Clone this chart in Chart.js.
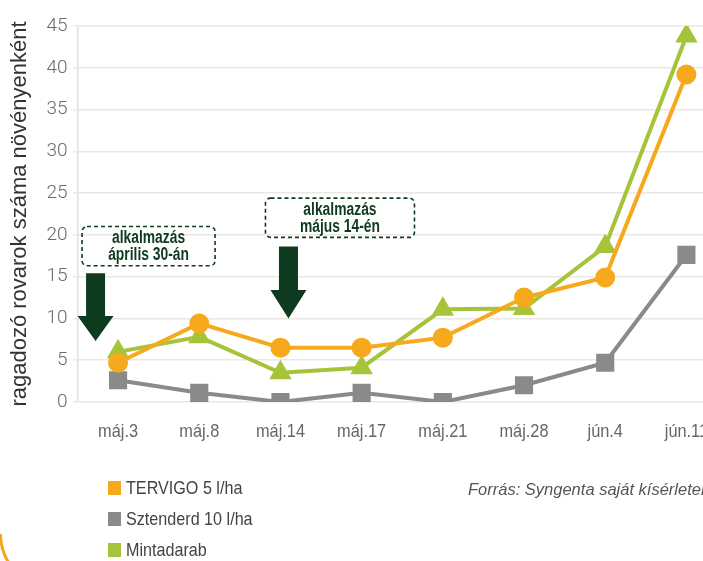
<!DOCTYPE html>
<html>
<head>
<meta charset="utf-8">
<script src="https://cdn.jsdelivr.net/npm/chart.js@4"></script>
<style>
  html, body { margin: 0; padding: 0; background: #fff; overflow: hidden; }
  #wrap { position: relative; width: 703px; height: 561px; overflow: hidden; }
  #box { position: absolute; left: 0; top: 0; width: 741px; height: 561px; }
  #legend { position: absolute; left: 108px; top: 472px; font-family: 'Liberation Sans', Arial, sans-serif; font-size: 19px; color: #444; }
  #legend div { height: 31px; display: flex; align-items: center; white-space: nowrap; }
  #legend span.sw { display: inline-block; width: 13px; height: 14px; margin-right: 5px; }
  #legend span.tx { display: inline-block; transform: scaleX(0.85); transform-origin: left center; }
  #source { position: absolute; left: 468px; top: 480px; font-family: 'Liberation Sans', Arial, sans-serif; font-style: italic; font-size: 16.5px; color: #555; white-space: nowrap; }
  #corner { position: absolute; left: -1px; top: 534px; width: 300px; height: 56px; box-sizing: border-box; border-left: 3px solid #f5a81c; border-bottom: 3px solid #f5a81c; border-radius: 0 0 0 56px; }
</style>
</head>
<body>
<div id="wrap">
  <div id="box"><canvas id="myChart"></canvas></div>
  <div id="legend"></div>
  <div id="source">Forrás: Syngenta saját kísérletei</div>
  <div id="corner"></div>
</div>
<script>
const labels = ['máj.3', 'máj.8', 'máj.14', 'máj.17', 'máj.21', 'máj.28', 'jún.4', 'jún.11'];
const tervigo = [4.7, 9.4, 6.5, 6.5, 7.7, 12.5, 14.9, 39.2];
const sztenderd = [2.6, 1.1, 0, 1.1, 0, 2.0, 4.7, 17.6];
const mintadarab = [6.0, 7.8, 3.5, 4.1, 11.1, 11.2, 18.6, 43.8];
const seriesNames = ['TERVIGO 5 l/ha', 'Sztenderd 10 l/ha', 'Mintadarab'];
const yTicks = [0, 5, 10, 15, 20, 25, 30, 35, 40, 45];
const notes = [
    ['alkalmazás', 'április 30-án'],
    ['alkalmazás', 'május 14-én']
];

const colors = ['#f6a91d', '#8a8a8a', '#a5c43a'];
const sans = "'Liberation Sans', Arial, sans-serif";
const darkGreen = '#0e3b1f';

// legend
const legend = document.getElementById('legend');
seriesNames.forEach((name, i) => {
    const row = document.createElement('div');
    const sw = document.createElement('span');
    sw.className = 'sw';
    sw.style.background = colors[i];
    const tx = document.createElement('span');
    tx.className = 'tx';
    tx.textContent = name;
    row.appendChild(sw);
    row.appendChild(tx);
    legend.appendChild(row);
});

function arrow(ctx, cx, top, headTop, tip) {
    ctx.fillStyle = darkGreen;
    ctx.beginPath();
    ctx.moveTo(cx - 9.5, top);
    ctx.lineTo(cx + 9.5, top);
    ctx.lineTo(cx + 9.5, headTop);
    ctx.lineTo(cx + 18, headTop);
    ctx.lineTo(cx, tip);
    ctx.lineTo(cx - 18, headTop);
    ctx.lineTo(cx - 9.5, headTop);
    ctx.closePath();
    ctx.fill();
}

// condensed text: draw squeezed horizontally
function narrowText(ctx, text, x, y, sx) {
    ctx.save();
    ctx.translate(x, y);
    ctx.scale(sx, 1);
    ctx.fillText(text, 0, 0);
    ctx.restore();
}

function noteBox(ctx, x1, y1, x2, y2, lines) {
    ctx.save();
    ctx.strokeStyle = darkGreen;
    ctx.lineWidth = 1.6;
    ctx.setLineDash([4, 3]);
    ctx.beginPath();
    ctx.roundRect(x1, y1, x2 - x1, y2 - y1, 5);
    ctx.stroke();
    ctx.setLineDash([]);
    ctx.fillStyle = darkGreen;
    ctx.font = 'bold 18px ' + sans;
    ctx.textAlign = 'center';
    ctx.textBaseline = 'middle';
    const cx = (x1 + x2) / 2, cy = (y1 + y2) / 2;
    narrowText(ctx, lines[0], cx, cy - 8, 0.77);
    narrowText(ctx, lines[1], cx, cy + 9, 0.77);
    ctx.restore();
}

const annotations = {
    id: 'annotations',
    beforeDatasetsDraw(chart) {
        const ctx = chart.ctx;
        const xs = chart.scales.x, ys = chart.scales.y;
        const c0 = xs.getPixelForValue(0), c2 = xs.getPixelForValue(2);
        arrow(ctx, c0 - 22.5, ys.getPixelForValue(15.4), ys.getPixelForValue(10.3), ys.getPixelForValue(7.3));
        noteBox(ctx, c0 - 36, ys.getPixelForValue(21.0), c0 + 97, ys.getPixelForValue(16.3), notes[0]);
        arrow(ctx, c2 + 8, ys.getPixelForValue(18.6), ys.getPixelForValue(13.4), ys.getPixelForValue(10.0));
        noteBox(ctx, c2 - 15, ys.getPixelForValue(24.4), c2 + 134, ys.getPixelForValue(19.7), notes[1]);
    },
    afterDraw(chart) {
        // x category labels, condensed
        const ctx = chart.ctx;
        const xs = chart.scales.x;
        ctx.save();
        ctx.fillStyle = '#666';
        ctx.font = '19px ' + sans;
        ctx.textAlign = 'center';
        ctx.textBaseline = 'middle';
        labels.forEach((lab, i) => {
            narrowText(ctx, lab, xs.getPixelForValue(i), chart.chartArea.bottom + 30, 0.86);
        });
        ctx.restore();
    }
};

const ctx = document.getElementById('myChart').getContext('2d');
new Chart(ctx, {
    type: 'line',
    data: {
        labels: labels,
        datasets: [
            { label: seriesNames[0], data: tervigo, borderColor: colors[0], backgroundColor: colors[0],
              borderWidth: 4, pointStyle: 'circle', pointRadius: 8, pointHoverRadius: 8 },
            { label: seriesNames[1], data: sztenderd, borderColor: colors[1], backgroundColor: colors[1],
              borderWidth: 4, pointStyle: 'rect', pointRadius: 10, pointHoverRadius: 10 },
            { label: seriesNames[2], data: mintadarab, borderColor: colors[2], backgroundColor: colors[2],
              borderWidth: 4, pointStyle: 'triangle', pointRadius: 9, pointHoverRadius: 9 }
        ]
    },
    options: {
        responsive: true,
        maintainAspectRatio: false,
        animation: false,
        layout: { padding: { top: 26, right: 4, bottom: 151, left: 0 } },
        plugins: {
            legend: { display: false },
            tooltip: { enabled: false }
        },
        scales: {
            x: {
                offset: true,
                grid: { display: false },
                border: { display: false },
                ticks: { display: false }
            },
            y: {
                min: 0,
                max: 45,
                afterBuildTicks: (axis) => { axis.ticks = yTicks.map(v => ({ value: v })); },
                grid: { color: '#ebe7e3', lineWidth: 1.5, tickLength: 4 },
                border: { display: true, color: '#e3dfdb', width: 1.5 },
                ticks: { color: '#6a6a6a', padding: 6, font: { family: 'Roboto', weight: 300, size: 19 } },
                title: {
                    display: true,
                    text: 'ragadozó rovarok száma növényenként',
                    color: '#333',
                    padding: { top: 7, bottom: 7 },
                    font: { family: sans, size: 22 }
                }
            }
        }
    },
    plugins: [annotations]
});
</script>
</body>
</html>
